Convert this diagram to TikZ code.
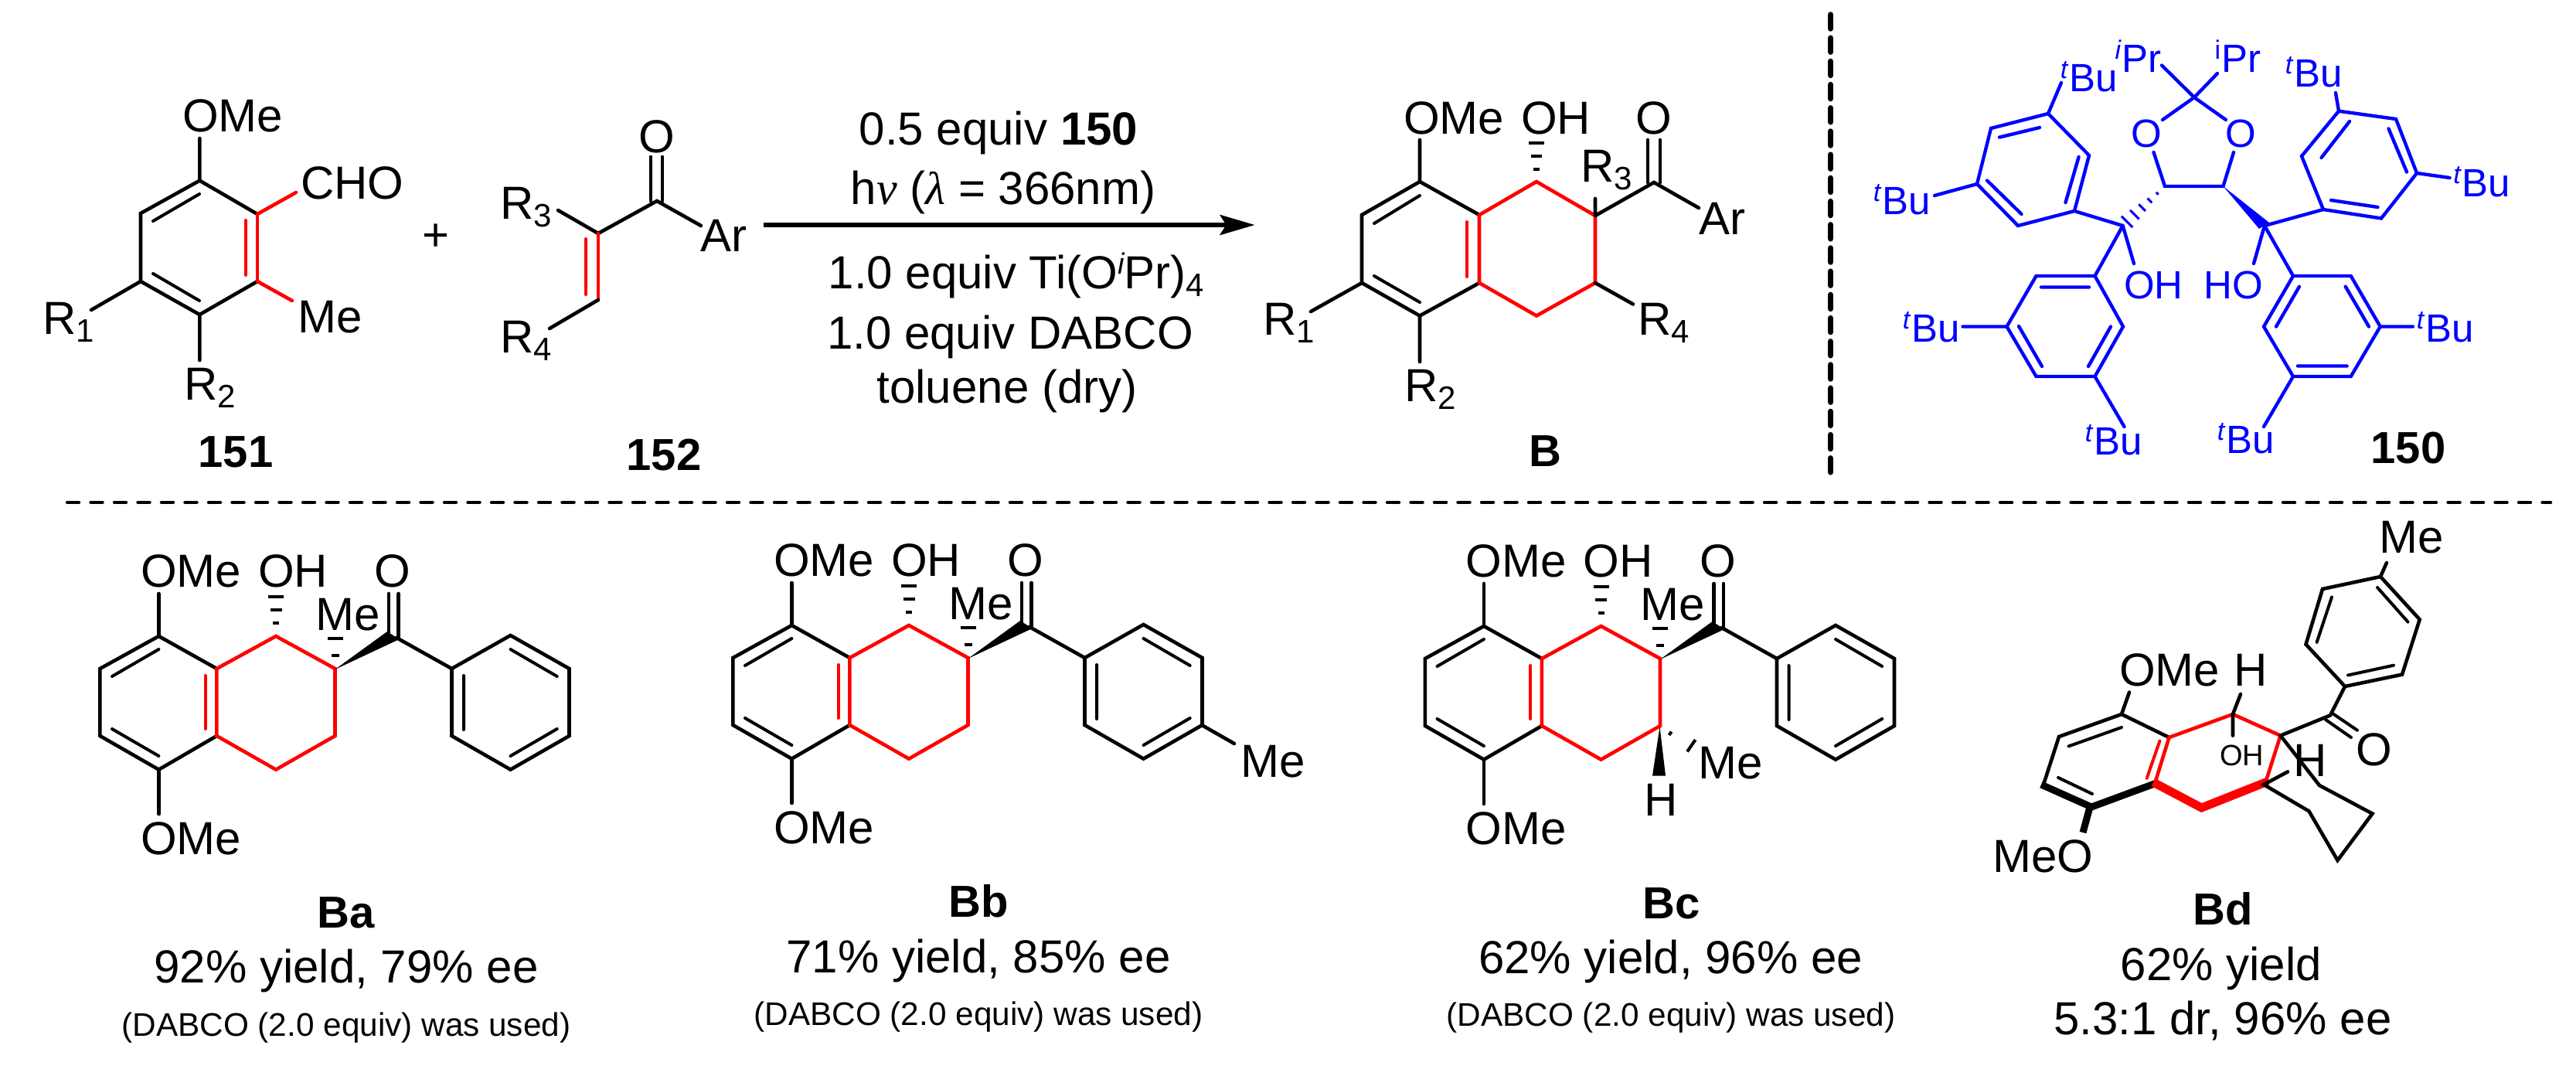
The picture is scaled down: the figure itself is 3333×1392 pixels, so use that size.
\documentclass[tikz,border=0pt]{standalone}
\usepackage{fontspec}
\setmainfont{Liberation Sans}
\newfontfamily\grkfont{Liberation Serif}
\usetikzlibrary{arrows.meta,calc}
\definecolor{pureblue}{RGB}{0,0,255}
\definecolor{purered}{RGB}{255,0,0}
\newcommand\fmain{\fontsize{60}{62}\selectfont}
\newcommand\fbold{\fontsize{58}{60}\selectfont}
\newcommand\fblue{\fontsize{51}{53}\selectfont}
\newcommand\fsmall{\fontsize{42.3}{44}\selectfont}
\newcommand\fsub{\fontsize{42}{42}\selectfont}
\newcommand\supT{\llap{\raisebox{17pt}{\fontsize{34}{34}\selectfont\itshape t\kern2pt}}}
\newcommand\supIi{\llap{\raisebox{17pt}{\fontsize{34}{34}\selectfont\itshape i\kern1pt}}}
\newcommand\supIu{\llap{\raisebox{17pt}{\fontsize{34}{34}\selectfont i\kern1pt}}}
\newcommand\Rs[1]{R\raisebox{-10pt}{\fsub #1}}
\tikzset{
  x=1pt,y=-1pt,
  bond/.style={line width=4.6pt,line cap=round,line join=miter},
  rbond/.style={bond,draw=purered},
  ibond/.style={line width=4pt,line cap=round},
  irbond/.style={ibond,draw=purered},
  wbond/.style={line width=4.4pt,line cap=round,line join=miter,draw=pureblue},
  hashb/.style={line width=4pt,line cap=butt},
  lab/.style={anchor=base west,inner sep=0pt,font=\fmain},
  clab/.style={anchor=base,inner sep=0pt,font=\fmain},
  blab/.style={anchor=base,inner sep=0pt,font=\fbold\bfseries},
  slab/.style={anchor=base,inner sep=0pt,font=\fsmall},
  blu/.style={anchor=base west,inner sep=0pt,font=\fblue,text=pureblue},
  divv/.style={line width=7.5pt,line cap=round,dash pattern=on 18pt off 12.2pt},
  divh/.style={line width=4.5pt,line cap=round,dash pattern=on 15pt off 15.5pt},
}
% shared keto-tetralin + benzoyl skeleton, drawn at the position of Ba
\newcommand\ketol{%
  \draw[bond] (280.4,865) -- (205.4,823) -- (129.4,865) -- (129.4,952) -- (205.4,995.6) -- (280.4,952);
  \draw[ibond] (145,875) -- (205.4,840) (145,943) -- (205.4,978);
  \draw[rbond] (280.4,865) -- (357,823) -- (433.5,865) -- (433.5,952) -- (357,995.6) -- (280.4,952) -- cycle;
  \draw[irbond] (265.6,874) -- (265.6,943);
  \draw[bond] (205.4,823) -- (205.4,768) (205.4,995.6) -- (205.4,1053);
  \node[lab] (ome1) at (182,759.5) {OMe};
  \node[lab] (ome2) at (182,1105) {OMe};
  \node[lab] (oh) at (334,759.5) {OH};
  \node[lab] (me) at (408,815) {Me};
  \node[clab] (ox) at (508,759.5) {O};
  \draw[hashb] (347,771.5) -- (367,771.5) (349.5,788.5) -- (364.5,788.5) (353,806) -- (361,806);
  \draw[hashb] (423.5,826.4) -- (443.5,826.4) (428.5,848) -- (438.5,848);
  \fill (433.5,866) -- (501,817) -- (516.6,827) -- cycle;
  \draw[bond] (503,768) -- (503,820) (515.6,768) -- (515.6,824);
  \draw[bond] (513,825) -- (584.5,865);
  \draw[bond] (584.5,865) -- (660.5,822) -- (736.5,865) -- (736.5,952) -- (660.5,995.6) -- (584.5,952) -- cycle;
  \draw[ibond] (600,874) -- (600,944) (660.5,840) -- (720.7,875) (720.7,943) -- (660.5,978);
}
\begin{document}
\begin{tikzpicture}
\useasboundingbox (0,0) rectangle (3333,1392);
\fill[white] (0,0) rectangle (3333,1392);

% ---------- 151
\draw[bond] (333,277) -- (258.3,233.6) -- (182,276) -- (182,364) -- (258.3,407) -- (333,364);
\draw[ibond] (198,286) -- (258,251) (198,354) -- (258,389);
\draw[rbond] (333,277) -- (333,364);
\draw[irbond] (318,285) -- (318,356);
\draw[bond] (258.3,233.6) -- (258.3,179) (182,364) -- (118,401) (258.3,407) -- (258.3,466);
\draw[rbond] (333,277) -- (383,249) (333,364) -- (378,389);
\node[lab] (a1) at (236,170) {OMe};
\node[lab] (a2) at (389,257) {CHO};
\node[lab] (a3) at (385,430) {Me};
\node[lab] (a4) at (55,432) {\Rs1};
\node[lab] (a5) at (238,517) {\Rs2};
\node[blab] (a6) at (305,604) {151};
\node[clab] (plus) at (564,324) {+};
% ---------- 152
\draw[bond] (722,272) -- (774,302) -- (850,260) -- (907,292);
\draw[bond] (842,260) -- (842,203) (857,260) -- (857,203);
\draw[rbond] (774,302) -- (774,388);
\draw[irbond] (758,309) -- (758,381);
\draw[bond] (774,388) -- (711,425);
\node[clab] (b1) at (850,197) {O};
\node[lab] (b2) at (906,325) {Ar};
\node[lab] (b3) at (647,283) {\Rs3};
\node[lab] (b4) at (647,456) {\Rs4};
\node[blab] (b5) at (859,608) {152};
% ---------- conditions and arrow
\coordinate (arS) at (988,291);
\coordinate (arE) at (1623.5,291);
\draw[line width=5.5pt,-{Stealth[length=45pt,width=26pt,inset=8pt]}] (arS) -- (arE);
\node[clab] (c1) at (1292,187) {0.5 equiv \textbf{150}};
\node[clab] (c2) at (1298,264) {h{\grkfont\itshape ν} ({\grkfont\itshape λ} = 366nm)};
\node[clab] (c3) at (1315,373.5) {1.0 equiv Ti(O\raisebox{19pt}{\fontsize{38}{38}\selectfont\itshape i}Pr)\raisebox{-10pt}{\fsub 4}};
\node[clab] (c4) at (1307,451) {1.0 equiv DABCO};
\node[clab] (c5) at (1303,521) {toluene (dry)};
% ---------- B
\draw[bond] (1914,278) -- (1837,235) -- (1762,278) -- (1762,366) -- (1837,408.5) -- (1914,366);
\draw[ibond] (1778,289) -- (1837,253) (1778,357) -- (1837,391);
\draw[rbond] (1914,278) -- (1988,235) -- (2064,279) -- (2064,366) -- (1988,408.5) -- (1914,366) -- cycle;
\draw[irbond] (1898,287) -- (1898,358);
\draw[bond] (1837,235) -- (1837,181) (2064,279) -- (2064,257) (2064,279) -- (2140,236) -- (2198,269);
\draw[bond] (2132,236) -- (2132,181) (2148,236) -- (2148,181);
\draw[bond] (2064,366) -- (2113,393.5) (1762,366) -- (1696,403) (1837,408.5) -- (1837,468);
\draw[hashb] (1978,185) -- (1998,185) (1981,202) -- (1995,202) (1984,219) -- (1992,219);
\node[lab] (d1) at (1816,173) {OMe};
\node[lab] (d2) at (1968,173) {OH};
\node[clab] (d3) at (2140,173) {O};
\node[lab] (d4) at (2045,235) {\Rs3};
\node[lab] (d5) at (2198,303) {Ar};
\node[lab] (d6) at (2119,433) {\Rs4};
\node[lab] (d7) at (1634,433) {\Rs1};
\node[lab] (d8) at (1817,519) {\Rs2};
\node[blab] (d9) at (1999,603) {B};
% ---------- dividers
\coordinate (vT) at (2368.5,19);
\coordinate (vB) at (2368.5,620);
\draw[divv] (vT) -- (vB);
\coordinate (hL) at (87,650);
\coordinate (hR) at (3300,650);
\draw[divh] (hL) -- (hR);
% ---------- 150 (blue)
\begin{scope}[draw=pureblue,text=pureblue]
\draw[wbond] (2797,84.5) -- (2839,126) -- (2869,95);
\draw[wbond] (2798,155) -- (2839,126) -- (2880,155);
\draw[wbond] (2786.5,197) -- (2801,241) -- (2876.5,241) -- (2890,197);
\fill[pureblue] (2876.5,241) -- (2923,296) -- (2936,288) -- cycle;
\foreach \t in {0.18,0.36,0.54,0.72,0.90}
  \draw[wbond,line cap=butt,line width=3pt] ($(2801,241)!\t!(2746.6,292)+(\t*8pt,-\t*8pt)$) -- ($(2801,241)!\t!(2746.6,292)+(-\t*8pt,\t*8pt)$);
% left upper aryl
\draw[wbond] (2746.6,292) -- (2684,273) -- (2703,201) -- (2650,147) -- (2576,166) -- (2558,238) -- (2611,292) -- (2684,273);
\draw[wbond] (2672.5,262) -- (2689.6,203) (2587,177.6) -- (2639,165) (2571,233.5) -- (2615.5,277);
\draw[wbond] (2650,147) -- (2667,107) (2558,238) -- (2503,253);
\node[blu] (e1) at (2677,118) {\supT Bu};
\node[blu] (e2) at (2435,277) {\supT Bu};
% left lower aryl
\draw[wbond] (2746.6,292) -- (2710.5,357) -- (2747,422.5) -- (2710.5,487) -- (2634.5,487) -- (2596.5,422.5) -- (2634.5,357) -- (2710.5,357);
\draw[wbond] (2641,371.5) -- (2703,371.5) (2731,422.5) -- (2702,474) (2612,422) -- (2642,474);
\draw[wbond] (2596.5,422.5) -- (2539.5,422.5) (2710.5,487) -- (2748.5,552);
\node[blu] (e3) at (2473,442) {\supT Bu};
\node[blu] (e4) at (2709,588) {\supT Bu};
\draw[wbond] (2746.6,292) -- (2761,341);
\node[blu] (e5) at (2748,386) {OH};
\node[blu] (e6) at (2851,386) {HO};
\draw[wbond] (2930,292) -- (2916,341);
% right upper aryl
\draw[wbond] (2930,292) -- (3006,271) -- (3081,282.5) -- (3127,224) -- (3100,154) -- (3026,143.7) -- (2978,202) -- (3006,271);
\draw[wbond] (3016,259) -- (3076.5,268) (3114,222.5) -- (3090.5,166.5) (3003.6,204) -- (3040,157);
\draw[wbond] (3026,143.7) -- (3022,120) (3127,224) -- (3169.6,230);
\node[blu] (e7) at (2968,112) {\supT Bu};
\node[blu] (e8) at (3185.6,254) {\supT Bu};
% right lower aryl
\draw[wbond] (2930,292) -- (2967,357) -- (3041.7,357) -- (3079.7,422.5) -- (3041.7,487) -- (2967,487) -- (2929,422.5) -- (2967,357);
\draw[wbond] (2945,422.5) -- (2975,370.7) (3034.7,370.7) -- (3065,422.5) (2973,473.5) -- (3036.6,473.5);
\draw[wbond] (3079.7,422.5) -- (3122,422.5) (2967,487) -- (2929,552);
\node[blu] (e9) at (3138,442) {\supT Bu};
\node[blu] (e10) at (2880,586) {\supT Bu};
\node[blu] (e11) at (2745,93) {\supIi Pr};
\node[blu] (e12) at (2874,93) {\supIu Pr};
\node[blu,anchor=base] (e13) at (2777,190) {O};
\node[blu,anchor=base] (e14) at (2899,190) {O};
\end{scope}
\node[blab] (e15) at (3116,599) {150};

% ---------- Ba
\begin{scope}[name prefix=ba-]
\ketol
\end{scope}
\node[blab] (f1) at (448,1200) {Ba};
\node[clab] (f2) at (448,1271.5) {92\% yield, 79\% ee};
\node[slab] (f3) at (448,1340.7) {(DABCO (2.0 equiv) was used)};
% ---------- Bb
\begin{scope}[shift={(819,-14)},name prefix=bb-]
\ketol
\draw[bond] (736,952) -- (778,976);
\node[lab] (me2) at (786,1019) {Me};
\end{scope}
\node[blab] (g1) at (1266,1186.7) {Bb};
\node[clab] (g2) at (1266,1258) {71\% yield, 85\% ee};
\node[slab] (g3) at (1266,1326) {(DABCO (2.0 equiv) was used)};
% ---------- Bc
\begin{scope}[shift={(1714.5,-13)},name prefix=bc-]
\ketol
\end{scope}
\fill (2147.5,940) -- (2138,1003.6) -- (2155,1003.6) -- cycle;
\draw[hashb] (2162.6,946.5) -- (2159.6,951) (2193.6,957) -- (2183,972.4);
\node[lab] (h4) at (2127,1055) {H};
\node[lab] (h5) at (2197,1007) {Me};
\node[blab] (h1) at (2162.6,1188) {Bc};
\node[clab] (h2) at (2161.6,1259.4) {62\% yield, 96\% ee};
\node[slab] (h3) at (2162,1327) {(DABCO (2.0 equiv) was used)};
% ---------- Bd
\draw[bond] (3080,746) -- (3088,728);
\draw[bond] (3080,746) -- (3130.7,801.4) -- (3108,872.6) -- (3034,888) -- (2983.5,833.6) -- (3005,762) -- cycle;
\draw[ibond] (3076,760) -- (3115.5,804.6) (3097,860.7) -- (3038,873.5) (2997.6,830.8) -- (3017,772.5);
\draw[bond] (3034,888) -- (3015,925.4) -- (2950.6,951.6);
\draw[ibond] (3018,923) -- (3050,944.7) (3009,931) -- (3042,954);
\draw[bond] (2806.5,954) -- (2745,924) -- (2664,953) -- (2643.7,1016);
\draw[ibond] (2676.5,965.4) -- (2745,941) (2663,1006) -- (2707,1027);
\draw[line width=9pt,line join=miter] (2641,1015) -- (2706,1044) -- (2790,1013);
\draw[line width=9pt] (2704,1044) -- (2695,1077);
\draw[rbond] (2932,1010) -- (2950.6,951.6) -- (2889,924) -- (2806.5,954) -- (2788,1013.6);
\draw[irbond] (2777.7,1006.7) -- (2794.4,958.5);
\draw[purered,line width=11pt,line join=miter] (2786,1012) -- (2848.5,1045) -- (2934,1011);
\draw[bond] (2745,924) -- (2755,895.6) (2889,924) -- (2899,898) (2889,924) -- (2889,951.6);
\draw[bond] (2950.6,951.6) -- (3001,1016) -- (3069.5,1052.6) -- (3024.5,1113) -- (2987.5,1049.4) -- (2929,1015) -- (2960,998.4);
\node[lab] (k1) at (3078,715) {Me};
\node[lab] (k2) at (3048,990.6) {O};
\node[lab] (k3) at (2742,887) {OMe};
\node[lab] (k4) at (2890,887) {H};
\node[anchor=base west,inner sep=0pt,font=\fontsize{38}{40}\selectfont] (k5) at (2872,990) {OH};
\node[lab] (k6) at (2967,1004) {H};
\node[lab] (k7) at (2578,1128) {MeO};
\node[blab] (k8) at (2876,1196) {Bd};
\node[clab] (k9) at (2874,1268.4) {62\% yield};
\node[clab] (k10) at (2876,1338.7) {5.3:1 dr, 96\% ee};
\end{tikzpicture}
\end{document}
